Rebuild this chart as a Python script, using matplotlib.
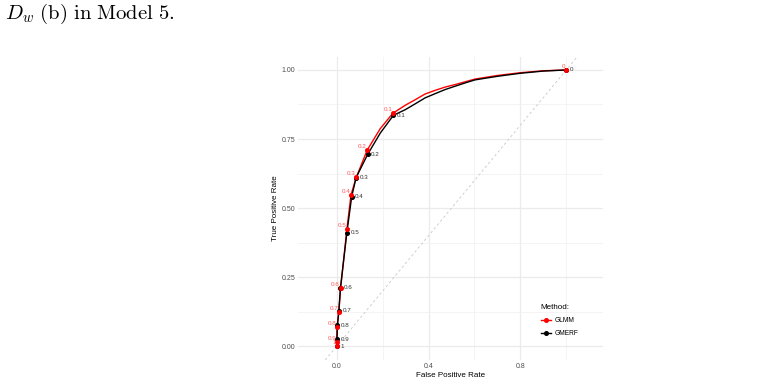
import numpy as np
import matplotlib
matplotlib.use("Agg")
import matplotlib.pyplot as plt
from matplotlib.lines import Line2D

plt.rcParams['mathtext.fontset'] = 'cm'
plt.rcParams['font.family'] = ['Liberation Sans', 'DejaVu Sans']

# ROC curves (false positive rate, true positive rate)
glmm_fpr = [0.0, 0.0, 0.001, 0.009, 0.017, 0.044, 0.062, 0.085, 0.132, 0.189, 0.244,
            0.298, 0.341, 0.385, 0.428, 0.472, 0.515, 0.559, 0.602, 0.70, 0.80, 0.90, 1.0]
glmm_tpr = [0.0, 0.016, 0.069, 0.124, 0.211, 0.423, 0.548, 0.611, 0.709, 0.787, 0.843,
            0.872, 0.892, 0.913, 0.926, 0.938, 0.947, 0.957, 0.967, 0.980, 0.990, 0.997, 1.0]
gmerf_fpr = [0.0, 0.001, 0.003, 0.009, 0.016, 0.044, 0.065, 0.084, 0.135, 0.190, 0.247,
             0.298, 0.341, 0.385, 0.428, 0.472, 0.515, 0.559, 0.602, 0.70, 0.80, 0.90, 1.0]
gmerf_tpr = [0.0, 0.025, 0.076, 0.128, 0.211, 0.411, 0.541, 0.610, 0.695, 0.772, 0.836,
             0.856, 0.877, 0.899, 0.914, 0.929, 0.941, 0.953, 0.964, 0.977, 0.988, 0.996, 1.0]

# threshold points and their labels
cut_labels = ["1", "0.9", "0.8", "0.7", "0.6", "0.5", "0.4", "0.3", "0.2", "0.1", "0"]
glmm_cut_fpr = [0.0, 0.0, 0.001, 0.009, 0.017, 0.044, 0.062, 0.085, 0.132, 0.244, 1.0]
glmm_cut_tpr = [0.0, 0.016, 0.069, 0.124, 0.211, 0.423, 0.548, 0.611, 0.709, 0.843, 1.0]
gmerf_cut_fpr = [0.0, 0.001, 0.003, 0.009, 0.016, 0.044, 0.065, 0.084, 0.135, 0.247, 1.0]
gmerf_cut_tpr = [0.0, 0.025, 0.076, 0.128, 0.211, 0.411, 0.541, 0.610, 0.695, 0.836, 1.0]

fig = plt.figure(figsize=(7.67, 3.86), dpi=100)
fig.text(0.007, 0.950, r"$D_w\ \mathrm{(b)\ in\ Model\ 5.}$", fontsize=14.9, ha='left', va='baseline')

ax = fig.add_axes([0.3885, 0.0674, 0.3977, 0.7850])
ax.set_xlim(-0.169, 1.16)
ax.set_ylim(-0.05, 1.047)

# grid like theme_minimal
for v in [0.0, 0.4, 0.8]:
    ax.axvline(v, color='#ebebeb', lw=0.9, zorder=0)
for v in [0.2, 0.6, 1.0]:
    ax.axvline(v, color='#f2f2f2', lw=0.6, zorder=0)
for v in [0.0, 0.25, 0.5, 0.75, 1.0]:
    ax.axhline(v, color='#ebebeb', lw=0.9, zorder=0)
for v in [0.125, 0.375, 0.625, 0.875]:
    ax.axhline(v, color='#f2f2f2', lw=0.6, zorder=0)

ax.axline((0, 0), (1, 1), color='#c8c8c8', lw=0.6, dashes=(3, 3), zorder=1)

ax.plot(gmerf_fpr, gmerf_tpr, color='black', lw=1.0, zorder=3)
ax.plot(glmm_fpr, glmm_tpr, color='red', lw=1.0, zorder=2)
ax.plot(gmerf_cut_fpr, gmerf_cut_tpr, 'o', color='black', ms=2.6, zorder=4)
ax.plot(glmm_cut_fpr, glmm_cut_tpr, 'o', color='red', ms=2.6, zorder=4)

for lab, x, y in zip(cut_labels, glmm_cut_fpr, glmm_cut_tpr):
    ax.annotate(lab, (x, y), xytext=(-0.5, 2.5), textcoords='offset points',
                ha='right', va='center', fontsize=4.5, color='#ff5a5a', zorder=5)
for lab, x, y in zip(cut_labels, gmerf_cut_fpr, gmerf_cut_tpr):
    ax.annotate(lab, (x, y), xytext=(2.5, 0), textcoords='offset points',
                ha='left', va='center', fontsize=4.5, color='#333333', zorder=5)

ax.set_xticks([0.0, 0.4, 0.8])
ax.set_xticklabels(["0.0", "0.4", "0.8"])
ax.set_yticks([0.0, 0.25, 0.5, 0.75, 1.0])
ax.set_yticklabels(["0.00", "0.25", "0.50", "0.75", "1.00"])
ax.tick_params(length=0, labelsize=5.0, labelcolor='#4d4d4d', pad=2)
for s in ax.spines.values():
    s.set_visible(False)
ax.set_xlabel("False Positive Rate", fontsize=5.8, labelpad=1.5)
ax.set_ylabel("True Positive Rate", fontsize=5.8, labelpad=2)

handles = [Line2D([], [], color='red', marker='o', ms=2.6, lw=1.0),
           Line2D([], [], color='black', marker='o', ms=2.6, lw=1.0)]
leg = ax.legend(handles, ["GLMM", "GMERF"], title="Method:", loc='upper left',
                bbox_to_anchor=(0.78, 0.20), frameon=False, fontsize=4.8,
                title_fontsize=5.8, handlelength=1.5, handletextpad=0.6,
                labelspacing=0.9, borderpad=0.2)
leg._legend_box.align = 'left'

fig.savefig("out.png", dpi=100)
